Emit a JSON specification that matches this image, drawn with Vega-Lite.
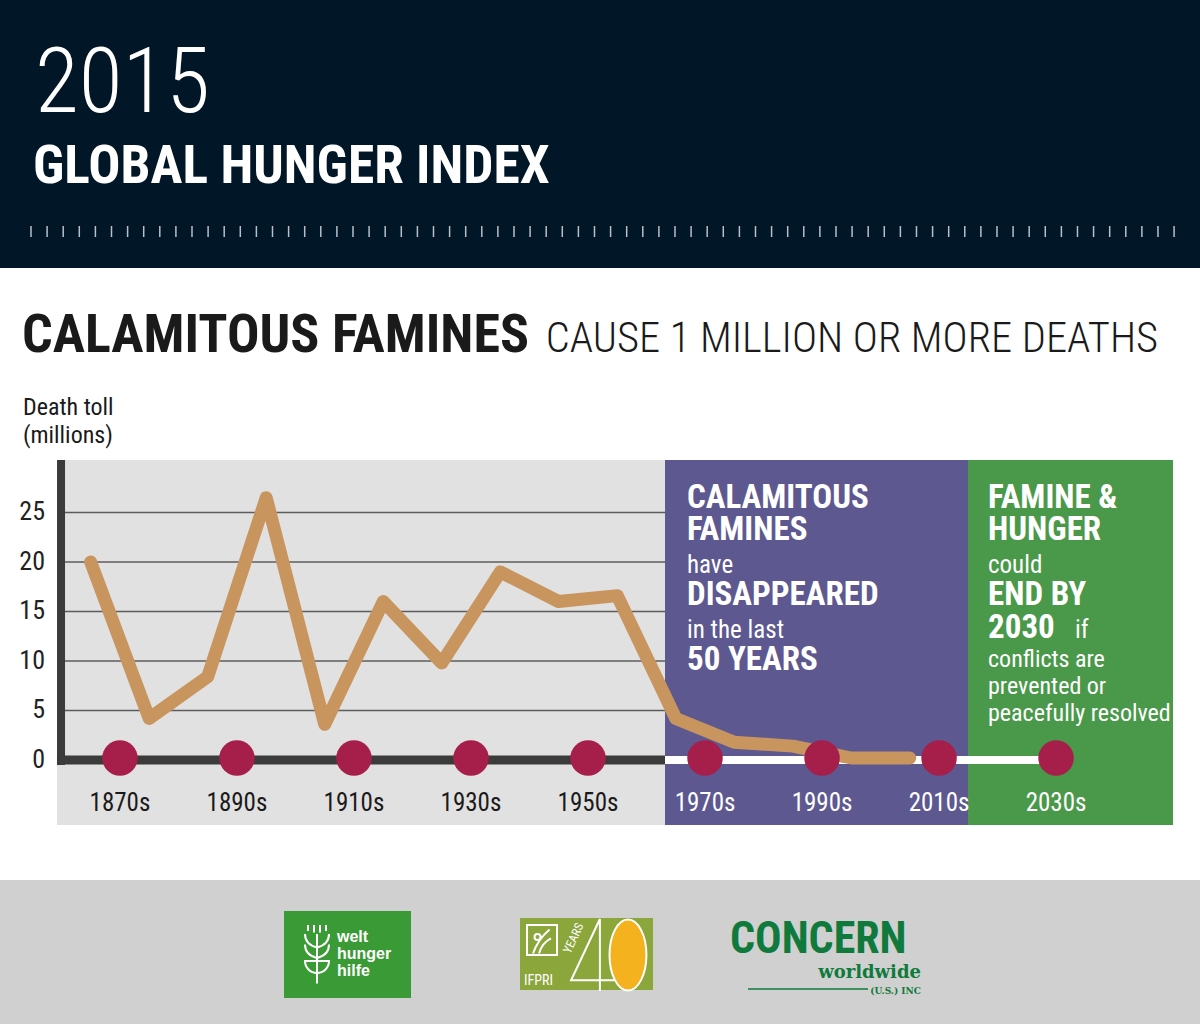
{
  "$schema": "https://vega.github.io/schema/vega-lite/v6.json",
  "width": 1200,
  "height": 1024,
  "autosize": {"type": "fit", "contains": "padding"},
  "padding": 0,
  "background": "white",
  "config": {"view": {"stroke": null}, "axis": {"disable": true}, "legend": {"disable": true}, "text": {"font": "'Roboto Condensed', sans-serif"}},
  "datasets": {
    "one": [{"n": 1}],
    "famines": [
      {"year": 1865, "deaths": 20},
      {"year": 1875, "deaths": 4.2},
      {"year": 1885, "deaths": 8.4},
      {"year": 1895, "deaths": 26.5},
      {"year": 1905, "deaths": 3.6},
      {"year": 1915, "deaths": 16},
      {"year": 1925, "deaths": 9.8},
      {"year": 1935, "deaths": 19},
      {"year": 1945, "deaths": 16},
      {"year": 1955, "deaths": 16.6},
      {"year": 1965, "deaths": 4.2},
      {"year": 1975, "deaths": 1.8},
      {"year": 1985, "deaths": 1.4},
      {"year": 1995, "deaths": 0.2},
      {"year": 2005, "deaths": 0.2}
    ],
    "decades": [
      {"decade": 1870, "label": "1870s"},
      {"decade": 1890, "label": "1890s"},
      {"decade": 1910, "label": "1910s"},
      {"decade": 1930, "label": "1930s"},
      {"decade": 1950, "label": "1950s"},
      {"decade": 1970, "label": "1970s"},
      {"decade": 1990, "label": "1990s"},
      {"decade": 2010, "label": "2010s"},
      {"decade": 2030, "label": "2030s"}
    ],
    "yticks": [{"v": 0}, {"v": 5}, {"v": 10}, {"v": 15}, {"v": 20}, {"v": 25}],
    "ticks": [
      {"k": 1}, {"k": 2}, {"k": 3}, {"k": 4}, {"k": 5}, {"k": 6}, {"k": 7}, {"k": 8}, {"k": 9}, {"k": 10},
      {"k": 11}, {"k": 12}, {"k": 13}, {"k": 14}, {"k": 15}, {"k": 16}, {"k": 17}, {"k": 18}, {"k": 19}, {"k": 20},
      {"k": 21}, {"k": 22}, {"k": 23}, {"k": 24}, {"k": 25}, {"k": 26}, {"k": 27}, {"k": 28}, {"k": 29}, {"k": 30},
      {"k": 31}, {"k": 32}, {"k": 33}, {"k": 34}, {"k": 35}, {"k": 36}, {"k": 37}, {"k": 38}, {"k": 39}, {"k": 40},
      {"k": 41}, {"k": 42}, {"k": 43}, {"k": 44}, {"k": 45}, {"k": 46}, {"k": 47}, {"k": 48}, {"k": 49}, {"k": 50},
      {"k": 51}, {"k": 52}, {"k": 53}, {"k": 54}, {"k": 55}, {"k": 56}, {"k": 57}, {"k": 58}, {"k": 59}, {"k": 60},
      {"k": 61}, {"k": 62}, {"k": 63}, {"k": 64}, {"k": 65}, {"k": 66}, {"k": 67}, {"k": 68}, {"k": 69}, {"k": 70},
      {"k": 71}, {"k": 72}
    ]
  },
  "resolve": {"scale": {"x": "independent"}},
  "layer": [
    {
      "layer": [
        {
          "data": {"name": "one"},
          "mark": {"type": "rect", "color": "#011626"},
          "encoding": {
            "x": {"datum": 1849.5, "type": "quantitative", "scale": {"domain": [1849.5, 2054.6], "nice": false, "zero": false}},
            "x2": {"datum": 2054.6},
            "y": {"datum": 76.77, "type": "quantitative", "scale": {"domain": [-26.67, 76.77], "nice": false, "zero": false}},
            "y2": {"datum": 49.70}
          }
        },
        {
          "data": {"name": "one"},
          "mark": {"type": "rect", "color": "#d0d0d0"},
          "encoding": {"x": {"datum": 1849.5}, "x2": {"datum": 2054.6}, "y": {"datum": -12.12}, "y2": {"datum": -26.67}}
        },
        {
          "data": {"name": "one"},
          "mark": {"type": "rect", "color": "#e1e1e1"},
          "encoding": {"x": {"datum": 1859.24}, "x2": {"datum": 1963.16}, "y": {"datum": 30.30}, "y2": {"datum": -6.57}}
        },
        {
          "data": {"name": "one"},
          "mark": {"type": "rect", "color": "#5d5890"},
          "encoding": {"x": {"datum": 1963.16}, "x2": {"datum": 2014.95}, "y": {"datum": 30.30}, "y2": {"datum": -6.57}}
        },
        {
          "data": {"name": "one"},
          "mark": {"type": "rect", "color": "#4a984a"},
          "encoding": {"x": {"datum": 2014.95}, "x2": {"datum": 2049.99}, "y": {"datum": 30.30}, "y2": {"datum": -6.57}}
        },
        {
          "data": {"name": "yticks"},
          "transform": [{"filter": "datum.v > 0"}],
          "mark": {"type": "rule", "color": "#5c5c5c", "strokeWidth": 1.6},
          "encoding": {"x": {"datum": 1860.61}, "x2": {"datum": 1963.16}, "y": {"field": "v", "type": "quantitative"}}
        },
        {
          "data": {"name": "yticks"},
          "mark": {"type": "text", "align": "right", "baseline": "middle", "fontSize": 26, "color": "#222222"},
          "encoding": {"x": {"datum": 1857.19}, "y": {"field": "v", "type": "quantitative"}, "text": {"field": "v", "type": "quantitative"}}
        },
        {
          "data": {"name": "one"},
          "mark": {"type": "rule", "color": "#3b3b3b", "strokeWidth": 8},
          "encoding": {"x": {"datum": 1859.93}, "y": {"datum": 30.30}, "y2": {"datum": -0.51}}
        },
        {
          "data": {"name": "one"},
          "mark": {"type": "rule", "color": "#3b3b3b", "strokeWidth": 9},
          "encoding": {"x": {"datum": 1859.24}, "x2": {"datum": 1963.16}, "y": {"datum": 0}}
        },
        {
          "data": {"name": "one"},
          "mark": {"type": "rule", "color": "#ffffff", "strokeWidth": 8},
          "encoding": {"x": {"datum": 1963.16}, "x2": {"datum": 2030}, "y": {"datum": 0}}
        },
        {
          "data": {"name": "famines"},
          "mark": {"type": "line", "color": "#c9955e", "strokeWidth": 13, "strokeCap": "round", "strokeJoin": "round"},
          "encoding": {"x": {"field": "year", "type": "quantitative"}, "y": {"field": "deaths", "type": "quantitative"}}
        },
        {
          "data": {"name": "decades"},
          "mark": {"type": "point", "shape": "circle", "filled": true, "opacity": 1, "size": 1260, "color": "#a51f4a"},
          "encoding": {"x": {"field": "decade", "type": "quantitative"}, "y": {"datum": 0.2}}
        },
        {
          "data": {"name": "decades"},
          "mark": {"type": "text", "align": "center", "baseline": "alphabetic", "fontSize": 25},
          "encoding": {
            "x": {"field": "decade", "type": "quantitative"},
            "y": {"datum": -5.15},
            "text": {"field": "label", "type": "nominal"},
            "color": {"condition": {"test": "datum.decade >= 1970", "value": "#ffffff"}, "value": "#1a1a1a"}
          }
        },
        {
          "data": {"values": [{"t": "2015"}]},
          "mark": {"type": "text", "align": "left", "baseline": "alphabetic", "fontWeight": 300, "fontSize": 90, "color": "#ffffff"},
          "encoding": {"x": {"datum": 1855.48}, "y": {"datum": 65.46}, "text": {"field": "t", "type": "nominal"}}
        },
        {
          "data": {"values": [{"t": "GLOBAL HUNGER INDEX"}]},
          "mark": {"type": "text", "align": "left", "baseline": "alphabetic", "fontWeight": "bold", "fontSize": 53.5, "color": "#ffffff"},
          "encoding": {"x": {"datum": 1855.14}, "y": {"datum": 58.29}, "text": {"field": "t", "type": "nominal"}}
        },
        {
          "data": {"values": [{"t": "CALAMITOUS FAMINES"}]},
          "mark": {"type": "text", "align": "left", "baseline": "alphabetic", "fontWeight": "bold", "fontSize": 54, "color": "#1a1a1a"},
          "encoding": {"x": {"datum": 1853.26}, "y": {"datum": 41.21}, "text": {"field": "t", "type": "nominal"}}
        },
        {
          "data": {"values": [{"t": "CAUSE 1 MILLION OR MORE DEATHS"}]},
          "mark": {"type": "text", "align": "right", "baseline": "alphabetic", "fontWeight": 300, "fontSize": 42.5, "color": "#1a1a1a"},
          "encoding": {"x": {"datum": 2047.42}, "y": {"datum": 41.21}, "text": {"field": "t", "type": "nominal"}}
        },
        {
          "data": {"values": [{"t": ["Death toll", " (millions)"]}]},
          "mark": {"type": "text", "lineHeight": 28, "align": "left", "baseline": "alphabetic", "fontSize": 24, "color": "#1a1a1a"},
          "encoding": {"x": {"datum": 1853.43}, "y": {"datum": 34.85}, "text": {"field": "t", "type": "nominal"}}
        },
        {
          "data": {"values": [{"t": "CALAMITOUS"}]},
          "mark": {"type": "text", "align": "left", "baseline": "alphabetic", "fontWeight": "bold", "fontSize": 33, "color": "#ffffff"},
          "encoding": {"x": {"datum": 1966.92}, "y": {"datum": 25.49}, "text": {"field": "t", "type": "nominal"}}
        },
        {
          "data": {"values": [{"t": "FAMINES"}]},
          "mark": {"type": "text", "align": "left", "baseline": "alphabetic", "fontWeight": "bold", "fontSize": 33, "color": "#ffffff"},
          "encoding": {"x": {"datum": 1966.92}, "y": {"datum": 22.21}, "text": {"field": "t", "type": "nominal"}}
        },
        {
          "data": {"values": [{"t": "have"}]},
          "mark": {"type": "text", "align": "left", "baseline": "alphabetic", "fontSize": 25, "color": "#ffffff"},
          "encoding": {"x": {"datum": 1966.92}, "y": {"datum": 18.92}, "text": {"field": "t", "type": "nominal"}}
        },
        {
          "data": {"values": [{"t": "DISAPPEARED"}]},
          "mark": {"type": "text", "align": "left", "baseline": "alphabetic", "fontWeight": "bold", "fontSize": 33, "color": "#ffffff"},
          "encoding": {"x": {"datum": 1966.92}, "y": {"datum": 15.64}, "text": {"field": "t", "type": "nominal"}}
        },
        {
          "data": {"values": [{"t": "in the last"}]},
          "mark": {"type": "text", "align": "left", "baseline": "alphabetic", "fontSize": 25, "color": "#ffffff"},
          "encoding": {"x": {"datum": 1966.92}, "y": {"datum": 12.35}, "text": {"field": "t", "type": "nominal"}}
        },
        {
          "data": {"values": [{"t": "50 YEARS"}]},
          "mark": {"type": "text", "align": "left", "baseline": "alphabetic", "fontWeight": "bold", "fontSize": 33, "color": "#ffffff"},
          "encoding": {"x": {"datum": 1966.92}, "y": {"datum": 9.07}, "text": {"field": "t", "type": "nominal"}}
        },
        {
          "data": {"values": [{"t": "FAMINE &"}]},
          "mark": {"type": "text", "align": "left", "baseline": "alphabetic", "fontWeight": "bold", "fontSize": 33, "color": "#ffffff"},
          "encoding": {"x": {"datum": 2018.37}, "y": {"datum": 25.49}, "text": {"field": "t", "type": "nominal"}}
        },
        {
          "data": {"values": [{"t": "HUNGER"}]},
          "mark": {"type": "text", "align": "left", "baseline": "alphabetic", "fontWeight": "bold", "fontSize": 33, "color": "#ffffff"},
          "encoding": {"x": {"datum": 2018.37}, "y": {"datum": 22.21}, "text": {"field": "t", "type": "nominal"}}
        },
        {
          "data": {"values": [{"t": "could"}]},
          "mark": {"type": "text", "align": "left", "baseline": "alphabetic", "fontSize": 25, "color": "#ffffff"},
          "encoding": {"x": {"datum": 2018.37}, "y": {"datum": 18.92}, "text": {"field": "t", "type": "nominal"}}
        },
        {
          "data": {"values": [{"t": "END BY"}]},
          "mark": {"type": "text", "align": "left", "baseline": "alphabetic", "fontWeight": "bold", "fontSize": 33, "color": "#ffffff"},
          "encoding": {"x": {"datum": 2018.37}, "y": {"datum": 15.64}, "text": {"field": "t", "type": "nominal"}}
        },
        {
          "data": {"values": [{"t": "2030"}]},
          "mark": {"type": "text", "align": "left", "baseline": "alphabetic", "fontWeight": "bold", "fontSize": 33, "color": "#ffffff"},
          "encoding": {"x": {"datum": 2018.37}, "y": {"datum": 12.35}, "text": {"field": "t", "type": "nominal"}}
        },
        {
          "data": {"values": [{"t": "if"}]},
          "mark": {"type": "text", "align": "left", "baseline": "alphabetic", "fontSize": 25, "color": "#ffffff"},
          "encoding": {"x": {"datum": 2033.24}, "y": {"datum": 12.35}, "text": {"field": "t", "type": "nominal"}}
        },
        {
          "data": {"values": [{"t": ["conflicts are", "prevented or", "peacefully resolved"]}]},
          "mark": {"type": "text", "lineHeight": 27, "align": "left", "baseline": "alphabetic", "fontSize": 24, "color": "#ffffff"},
          "encoding": {"x": {"datum": 2018.37}, "y": {"datum": 9.39}, "text": {"field": "t", "type": "nominal"}}
        },
        {
          "data": {"name": "one"},
          "mark": {"type": "rect", "color": "#3a9a35"},
          "encoding": {"x": {"datum": 1898.04}, "x2": {"datum": 1919.75}, "y": {"datum": -15.25}, "y2": {"datum": -24.04}}
        },
        {
          "data": {"name": "one"},
          "mark": {"type": "point", "shape": "M-0.3,-1V-0.8M-0.1,-1V-0.75M0.1,-1V-0.75M0.3,-1V-0.8M0,-0.7V0.95M-0.4,-0.7Q-0.4,-0.35 0,-0.25Q0.4,-0.35 0.4,-0.7M-0.4,-0.35Q-0.4,0 0,0.1Q0.4,0 0.4,-0.35M-0.4,0.2A0.4,0.4 0 1,0 0.4,0.2Z", "size": 3600, "filled": false, "opacity": 1, "stroke": "#ffffff", "strokeWidth": 2},
          "encoding": {"x": {"datum": 1903.68}, "y": {"datum": -19.70}}
        },
        {
          "data": {"values": [{"t": ["welt", "hunger", "hilfe"]}]},
          "mark": {"type": "text", "lineHeight": 17, "align": "left", "baseline": "alphabetic", "font": "Liberation Sans", "fontWeight": "bold", "fontSize": 16, "color": "#ffffff"},
          "encoding": {"x": {"datum": 1907.1}, "y": {"datum": -18.38}, "text": {"field": "t", "type": "nominal"}}
        },
        {
          "data": {"name": "one"},
          "mark": {"type": "rect", "color": "#8ba63b"},
          "encoding": {"x": {"datum": 1938.38}, "x2": {"datum": 1961.11}, "y": {"datum": -15.96}, "y2": {"datum": -23.23}}
        },
        {
          "data": {"name": "one"},
          "mark": {"type": "point", "shape": "square", "size": 900, "filled": false, "opacity": 1, "stroke": "#ffffff", "strokeWidth": 2},
          "encoding": {"x": {"datum": 1942.14}, "y": {"datum": -18.18}}
        },
        {
          "data": {"name": "one"},
          "mark": {"type": "point", "shape": "M-0.6,0.9Q-0.3,0 0.5,-0.7M-0.2,0.9Q0,0.2 0.6,-0.1M-0.5,-0.2A0.2,0.2 0 1,1 -0.1,-0.2A0.2,0.2 0 1,1 -0.5,-0.2Z", "size": 900, "filled": false, "opacity": 1, "stroke": "#ffffff", "strokeWidth": 2},
          "encoding": {"x": {"datum": 1942.14}, "y": {"datum": -18.18}}
        },
        {
          "data": {"values": [{"t": "IFPRI"}]},
          "mark": {"type": "text", "align": "left", "baseline": "alphabetic", "fontSize": 14, "color": "#ffffff"},
          "encoding": {"x": {"datum": 1939.06}, "y": {"datum": -22.73}, "text": {"field": "t", "type": "nominal"}}
        },
        {
          "data": {"values": [{"t": "YEARS"}]},
          "mark": {"type": "text", "angle": 295, "align": "center", "baseline": "middle", "fontSize": 12, "color": "#ffffff"},
          "encoding": {"x": {"datum": 1947.5}, "y": {"datum": -18.0}, "text": {"field": "t", "type": "nominal"}}
        },
        {
          "data": {"name": "one"},
          "mark": {"type": "point", "shape": "M0.2,1V-1L-0.6,0.7H0.6", "size": 5184, "filled": false, "opacity": 1, "stroke": "#ffffff", "strokeWidth": 2},
          "encoding": {"x": {"datum": 1950.8}, "y": {"datum": -19.70}}
        },
        {
          "data": {"name": "one"},
          "mark": {"type": "point", "shape": "M0,-1A0.52,1 0 1,1 0,1A0.52,1 0 1,1 0,-1Z", "size": 5041, "filled": true, "opacity": 1, "color": "#f5b21f", "stroke": "#ffffff", "strokeWidth": 2},
          "encoding": {"x": {"datum": 1956.83}, "y": {"datum": -19.70}}
        },
        {
          "data": {"values": [{"t": "CONCERN"}]},
          "mark": {"type": "text", "align": "left", "baseline": "alphabetic", "fontWeight": "bold", "fontSize": 44, "color": "#0f7a3c"},
          "encoding": {"x": {"datum": 1974.27}, "y": {"datum": -19.5}, "text": {"field": "t", "type": "nominal"}}
        },
        {
          "data": {"values": [{"t": "worldwide"}]},
          "mark": {"type": "text", "align": "right", "baseline": "alphabetic", "font": "DejaVu Serif", "fontWeight": "bold", "fontSize": 18, "color": "#0f7a3c"},
          "encoding": {"x": {"datum": 2006.91}, "y": {"datum": -22.0}, "text": {"field": "t", "type": "nominal"}}
        },
        {
          "data": {"name": "one"},
          "mark": {"type": "rule", "color": "#0f7a3c", "strokeWidth": 1.5},
          "encoding": {"x": {"datum": 1977.35}, "x2": {"datum": 1997.86}, "y": {"datum": -23.13}}
        },
        {
          "data": {"values": [{"t": "(U.S.) INC"}]},
          "mark": {"type": "text", "align": "right", "baseline": "alphabetic", "font": "DejaVu Serif", "fontWeight": "bold", "fontSize": 9, "color": "#0f7a3c"},
          "encoding": {"x": {"datum": 2006.91}, "y": {"datum": -23.64}, "text": {"field": "t", "type": "nominal"}}
        }
      ]
    },
    {
      "data": {"name": "ticks"},
      "mark": {"type": "rule", "color": "#b9c0c6", "strokeWidth": 1.5},
      "encoding": {
        "x": {"field": "k", "type": "quantitative", "scale": {"domain": [-0.9256, 73.61], "nice": false, "zero": false}},
        "y": {"datum": 53.94},
        "y2": {"datum": 52.83}
      }
    }
  ]
}
